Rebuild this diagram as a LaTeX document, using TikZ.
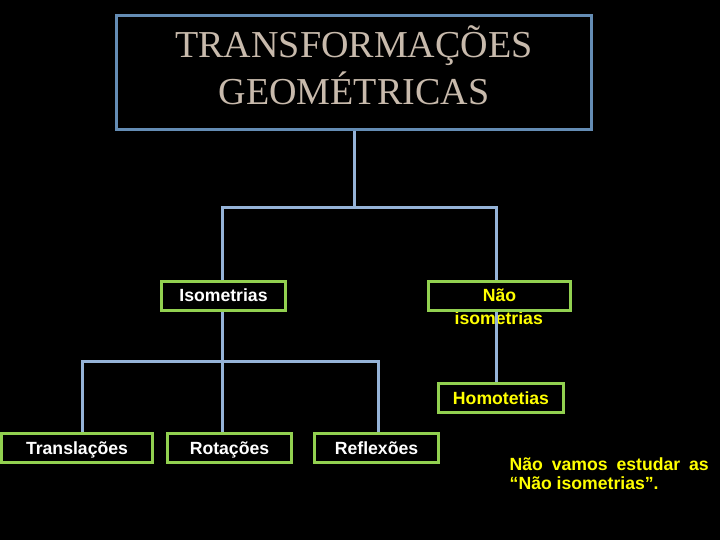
\documentclass[tikz,border=0pt]{standalone}
\usepackage{fontspec}
\setmainfont{Liberation Serif}
\newfontfamily\arialfont{Liberation Sans}
\definecolor{boxgreen}{RGB}{146,208,80}
\definecolor{connblue}{RGB}{149,179,215}
\definecolor{titleblue}{RGB}{100,140,180}
\definecolor{titletxt}{RGB}{200,186,172}
\definecolor{txtyellow}{RGB}{255,255,0}
\begin{document}
\begin{tikzpicture}[x=1bp,y=-1bp,
  box/.style={draw=boxgreen, line width=3bp, fill=black, minimum height=29bp,
    inner sep=0pt, text height=12.7bp, text depth=0pt, text=white,
    font=\arialfont\bfseries\fontsize{17.7}{21}\selectfont},
  boxlabel/.style={inner sep=0pt, text=txtyellow,
    font=\arialfont\bfseries\fontsize{17.7}{21}\selectfont},
  titlebox/.style={draw=titleblue, line width=3bp, inner sep=0pt},
  titletext/.style={inner sep=0pt, text=titletxt,
    font=\fontsize{38.2}{47}\selectfont},
  note/.style={inner sep=0pt, text=txtyellow, text width=199bp, align=justify,
    font=\arialfont\bfseries\fontsize{17.7}{18.6}\selectfont},
  conn/.style={draw=connblue, line width=3bp, line join=miter}]
\fill[black] (0,0) rectangle (720,540);
\useasboundingbox (0,0) rectangle (720,540);

\node[titlebox, minimum width=475bp, minimum height=114bp] (title) at (354,72.5) {};
\node[titletext, anchor=base] (t1) at (354,58) {TRANSFORMAÇÕES};
\node[titletext, anchor=base] (t2) at (354,105) {GEOMÉTRICAS};

\node[boxlabel, anchor=base] (naoiso) at (498.7,324) {isometrias};
\node[box, minimum width=124bp] (iso) at (223.5,295.5) {Isometrias};
\node[box, minimum width=142bp, text=txtyellow] (nao) at (499.5,295.5) {Não};
\node[box, minimum width=125bp, text=txtyellow] (homo) at (501,398) {Homotetias};
\node[box, minimum width=151bp] (trans) at (77,448) {Translações};
\node[box, minimum width=124bp] (rot) at (229.5,448) {Rotações};
\node[box, minimum width=124bp] (refl) at (376.5,448) {Reflexões};
\node[note, anchor=north west] (note) at (509.5,457.5) {Não vamos estudar as “Não isometrias”.};

\coordinate (j1) at (354,208);
\coordinate (ja) at (222.5,208);
\coordinate (jb) at (496,208);
\coordinate (k) at (222.5,361);
\coordinate (ka) at (82,361);
\coordinate (kb) at (378,361);

\draw[conn] (title.south) -- (j1);
\draw[conn] (ja |- iso.north) -- (ja) -- (jb) -- (jb |- nao.north);
\draw[conn] (k |- iso.south) -- (k |- rot.north);
\draw[conn] (ka |- trans.north) -- (ka) -- (kb) -- (kb |- refl.north);
\draw[conn] (jb |- nao.south) -- (jb |- homo.north);
\end{tikzpicture}
\end{document}
